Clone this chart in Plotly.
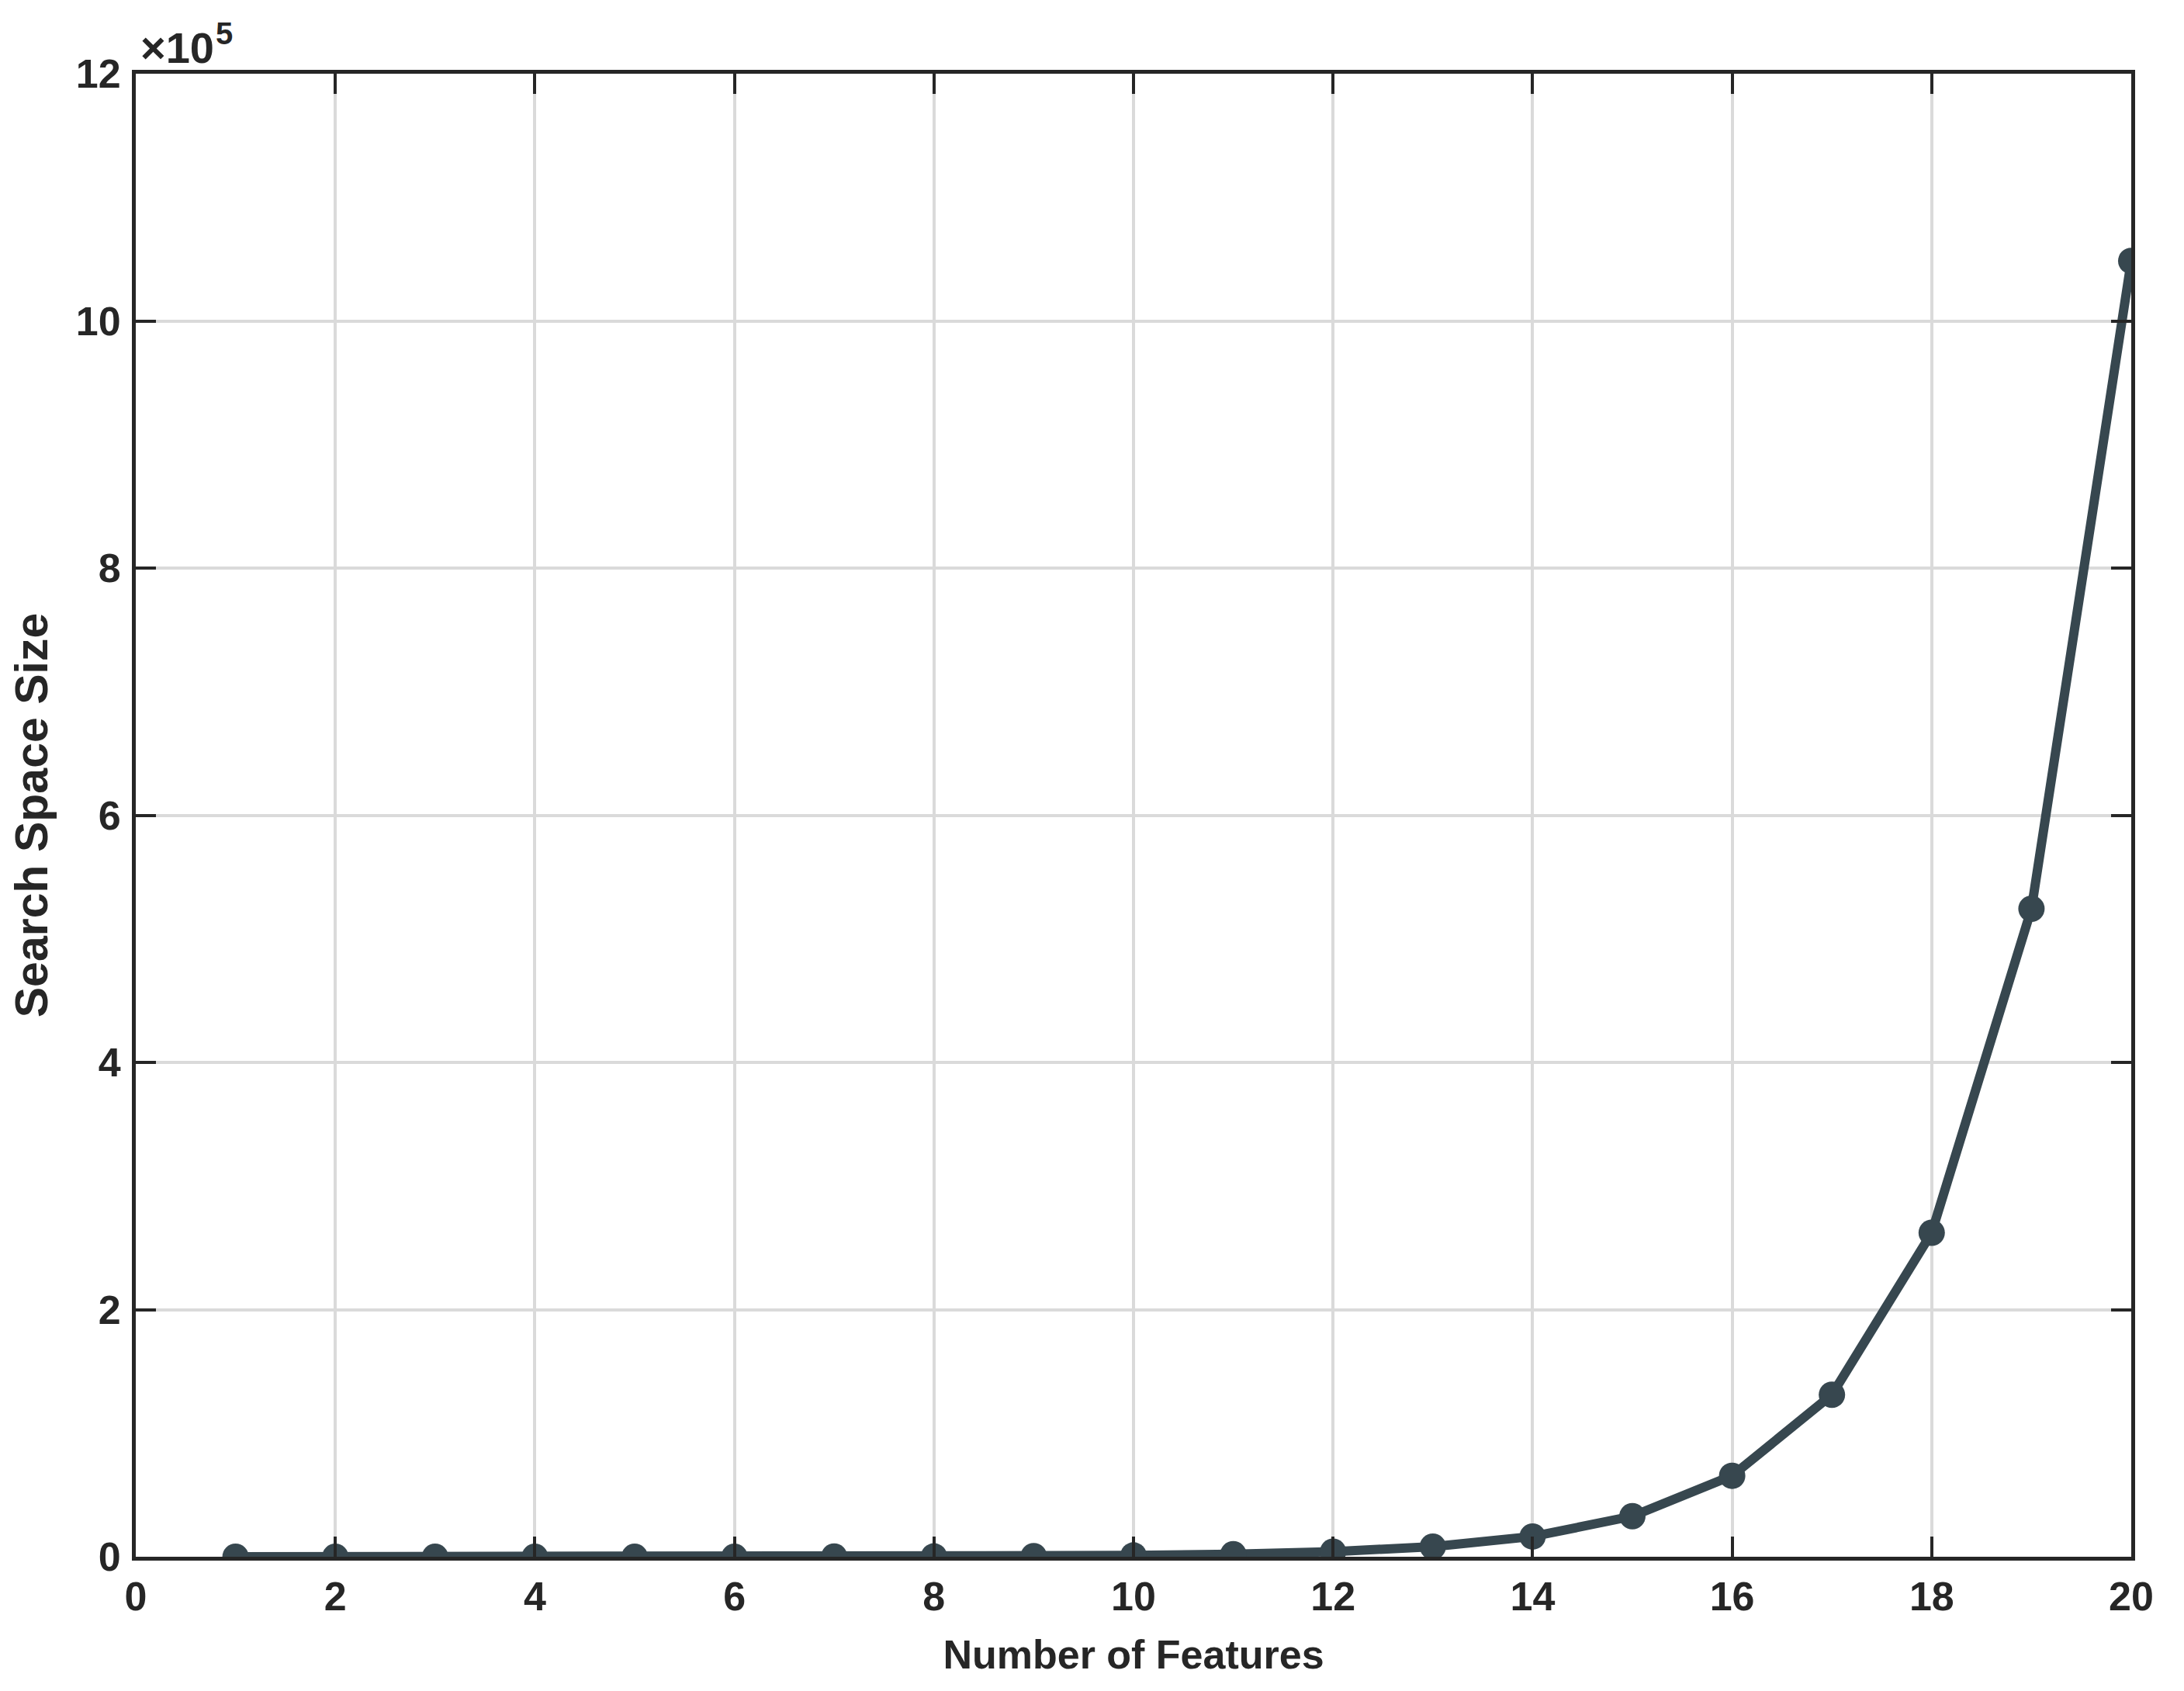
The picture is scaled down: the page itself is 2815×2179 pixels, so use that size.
import plotly.graph_objects as go

# number of features vs. size of the search space
n_features = [1, 2, 3, 4, 5, 6, 7, 8, 9, 10, 11, 12, 13, 14, 15, 16, 17, 18, 19, 20]
search_space = [2, 4, 8, 16, 32, 64, 128, 256, 512, 1024, 2048, 4096, 8192,
                16384, 32768, 65536, 131072, 262144, 524288, 1048576]

x_ticks = [0, 2, 4, 6, 8, 10, 12, 14, 16, 18, 20]
y_ticks = [0, 200000, 400000, 600000, 800000, 1000000, 1200000]
y_ticktext = ["0", "2", "4", "6", "8", "10", "12"]

ink = "#262626"
line_col = "#37474f"
font_fam = "Liberation Sans, Arial, sans-serif"

fig = go.Figure()
fig.add_trace(go.Scatter(
    x=n_features, y=search_space,
    mode="lines+markers",
    line=dict(color=line_col, width=12),
    marker=dict(color=line_col, size=34),
    showlegend=False,
))

axis_common = dict(
    showline=True, linecolor=ink, linewidth=5, mirror="ticks",
    ticks="inside", ticklen=26, tickwidth=4, tickcolor=ink,
    showgrid=True, gridcolor="#dadada", gridwidth=4,
    zeroline=False,
    tickfont=dict(family=font_fam, size=52, color=ink, weight="bold"),
)

fig.update_xaxes(
    range=[0, 20], tickvals=x_ticks,
    title=dict(text="<b>Number of Features</b>", standoff=30,
               font=dict(family=font_fam, size=52, color=ink)),
    ticklabelstandoff=2,
    **axis_common,
)
fig.update_yaxes(
    range=[0, 1200000], tickvals=y_ticks, ticktext=y_ticktext,
    title=dict(text="<b>Search Space Size</b>", standoff=20,
               font=dict(family=font_fam, size=59, color=ink)),
    ticklabelstandoff=4,
    **axis_common,
)

# exponent label above the y axis
fig.add_annotation(
    text="×10", xref="paper", yref="paper",
    x=0.0, y=1.0, xanchor="left", yanchor="bottom", xshift=4, yshift=0,
    showarrow=False,
    font=dict(family=font_fam, size=56, color=ink, weight="bold"),
)
fig.add_annotation(
    text="5", xref="paper", yref="paper",
    x=0.0, y=1.0, xanchor="left", yanchor="bottom", xshift=101, yshift=28,
    showarrow=False,
    font=dict(family=font_fam, size=40, color=ink, weight="bold"),
)

fig.update_layout(
    width=2815, height=2179,
    margin=dict(l=167, r=76, t=87, b=181),
    paper_bgcolor="white", plot_bgcolor="white",
)

fig.write_html("out.html")
